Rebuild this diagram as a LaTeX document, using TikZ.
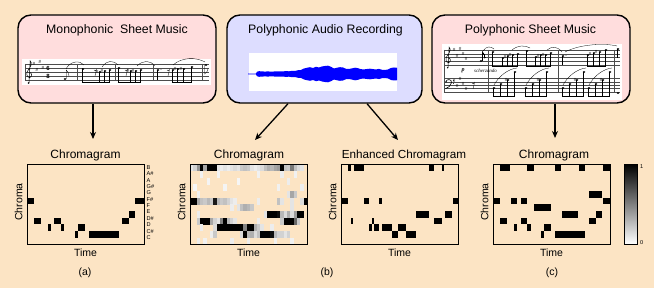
\documentclass[tikz,border=0pt]{standalone}
\usepackage{fontspec}
\setmainfont{Liberation Sans}
\newfontfamily\musicserif{Liberation Serif}
\usetikzlibrary{arrows.meta,calc}
\definecolor{bg}{RGB}{252,228,196}
\definecolor{pinkbox}{RGB}{255,221,221}
\definecolor{lavbox}{RGB}{221,221,255}
\definecolor{wave}{RGB}{0,0,255}
\newcommand\mnote[2]{\fill (#1,#2) ellipse [x radius=1.35, y radius=0.95];}
\begin{document}
\begin{tikzpicture}[x=1pt,y=-1pt,
 bigbox/.style={draw=black, line width=1.4pt, rounded corners=13pt, inner sep=0pt},
 arr/.style={-{Stealth[length=7pt,width=6pt]}, line width=1.3pt},
 title/.style={font=\fontsize{12.3}{14}\selectfont, inner sep=0pt, anchor=base},
 ctitle/.style={font=\fontsize{12}{14}\selectfont, inner sep=0pt, anchor=base},
 lab/.style={font=\fontsize{10.5}{12}\selectfont, inner sep=0pt},
 tinylab/.style={font=\fontsize{5.6}{6}\selectfont, inner sep=0pt, anchor=west},
 chbox/.style={draw=black, line width=0.9pt, minimum width=117pt, minimum height=80pt, inner sep=0pt},
 staff/.style={line width=0.25pt, black!70},
 stem/.style={line width=0.3pt},
 beam/.style={line width=0.8pt},
 slur/.style={line width=0.3pt},
 sh/.style={font=\fontsize{4.5}{4.5}\selectfont, inner sep=0pt},
 ts/.style={font=\bfseries\fontsize{6}{6}\selectfont, inner sep=0pt},
]
\fill[bg] (0,0) rectangle (654,288);
\useasboundingbox (0,0) rectangle (654,288);

% ---------- top boxes ----------
\node[bigbox, fill=pinkbox, minimum width=198pt, minimum height=88pt] (mono) at (117,59) {};
\node[bigbox, fill=lavbox, minimum width=195pt, minimum height=88pt] (audio) at (324.5,59) {};
\node[bigbox, fill=pinkbox, minimum width=198pt, minimum height=88pt] (poly) at (531,59) {};
\node[title] (monot) at (117,33.3) {Monophonic\ \ Sheet Music};
\node[title] (audiot) at (325.5,33.3) {Polyphonic Audio Recording};
\node[title] (polyt) at (530.5,33.3) {Polyphonic Sheet Music};

% ---------- monophonic sheet ----------
\fill[white] (22,59) rectangle (211,85);
\foreach \y in {64,68,72,76,80} \draw[staff] (25,\y) -- (209,\y);
\foreach \x in {25,77,115,153,202} \draw[staff] (\x,64) -- (\x,80);
\begin{scope}[shift={(29,72)}]
 \draw[line width=0.5pt] (0,11) -- (1.2,-11) .. controls (3.5,-9) and (2,-5.5) .. (-0.8,-2) .. controls (-3.5,1) and (-2,6) .. (0.8,5.5) .. controls (3.5,5) and (2.8,0) .. (0.5,0.5);
 \fill (-0.5,11) circle (0.8);
\end{scope}
\foreach \x/\y [count=\i] in {34/64,37/70,40/62,43/68} \node[sh] (msh\i) at (\x,\y) {\#};
\node[ts] (m6) at (48,68) {6};
\node[ts] (m8) at (48,76) {8};
\foreach \x/\y in {65/79, 83/69, 100/72, 105/71, 110/70, 119/68, 131/71, 136/71, 141/70, 158/70, 173/70, 178/69, 184/69, 192/67, 206/65} \mnote{\x}{\y}
\foreach \x/\y in {83/69,100/72,105/71,110/70,119/68,131/71,136/71,141/70,173/70,178/69,184/69,192/67} \draw[stem] (\x-1.2,\y) -- (\x-1.2,83);
\draw[beam] (81.8,82.6) -- (108.8,82.6);
\draw[beam] (117.8,82.6) -- (139.8,82.6);
\draw[beam] (171.8,82.6) -- (190.8,82.6);
\draw[stem] (66.2,79) -- (66.2,70) .. controls (67.5,72) and (69.5,73) .. (69,76);
\draw[stem] (156.8,70) -- (156.8,80);
\fill (161,69.5) circle (0.45);
\draw[stem] (204.8,65) -- (204.8,74) .. controls (206,72) and (208,72) .. (208,69);
\foreach \x in {94,125,167} \draw[stem] (\x,70) .. controls (\x+1,71) and (\x+2,71) .. (\x+2.5,69.5) -- (\x+1,76);
\foreach \x/\y [count=\i] in {97/72,102/71,128/71,133/71,175/69,181/69} \node[sh] (mac\i) at (\x,\y) {\#};
\draw[slur] (66,69) .. controls (70,61) and (80,60) .. (84,65);
\draw[slur] (102,67) .. controls (107,60) and (113,60) .. (118,65);
\draw[slur] (137,66) .. controls (143,60) and (150,60) .. (155,66);
\draw[slur] (173,65) .. controls (182,57) and (196,57) .. (205,62);

% ---------- audio waveform ----------
\fill[white] (249,53) rectangle (397,91);
\fill[wave] plot[smooth, tension=0.5] coordinates {(248,73.5) (256,73.5) (257,71.8) (259,71.2) (262,71.4) (265,71.6) (268,71.4) (271,71.7) (274,71.5) (277,71.3) (280,71.5) (283,71.4) (286,71.1) (289,71.3) (292,70.8) (295,71.0) (298,70.2) (301,70.0) (304,68.5) (307,67.8) (310,67.2) (313,68.0) (316,66.8) (319,67.5) (322,66.5) (325,66.0) (328,65.7) (331,66.8) (334,68.5) (337,67.7) (340,67.2) (343,67.5) (346,68.8) (349,69.0) (352,68.4) (355,67.7) (358,68.2) (361,69.2) (364,69.4) (367,69.0) (370,68.7) (373,69.1) (376,69.5) (379,68.9) (382,69.8) (385,70.0) (388,69.5) (391,68.0) (394,67.5) (397,67.8)}
 -- plot[smooth, tension=0.5] coordinates {(397,80.2) (394,80.5) (391,80.0) (388,78.5) (385,78.0) (382,78.2) (379,79.1) (376,78.5) (373,78.9) (370,79.3) (367,79.0) (364,78.6) (361,78.8) (358,79.8) (355,80.3) (352,79.6) (349,79.0) (346,79.2) (343,80.5) (340,80.8) (337,80.3) (334,79.5) (331,81.2) (328,82.3) (325,82.0) (322,81.5) (319,80.5) (316,81.2) (313,80.0) (310,80.8) (307,80.2) (304,79.5) (301,78.0) (298,77.8) (295,77.0) (292,77.2) (289,76.7) (286,76.9) (283,76.6) (280,76.5) (277,76.7) (274,76.5) (271,76.3) (268,76.6) (265,76.4) (262,76.6) (259,76.8) (257,76.2) (256,74.5) (248,74.5)} -- cycle;

% ---------- polyphonic sheet ----------
\fill[white] (442,44) rectangle (622,100);
\foreach \y in {50,53.75,57.5,61.25,65} \draw[staff] (444,\y) -- (620,\y);
\foreach \y in {78.5,81.8,85.1,88.4,91.7} \draw[staff] (444,\y) -- (620,\y);
\foreach \x in {444,488,558,614} \draw[staff] (\x,50) -- (\x,91.7);
\begin{scope}[shift={(448,57.5)}, scale=0.93]
 \draw[line width=0.5pt] (0,11) -- (1.2,-11) .. controls (3.5,-9) and (2,-5.5) .. (-0.8,-2) .. controls (-3.5,1) and (-2,6) .. (0.8,5.5) .. controls (3.5,5) and (2.8,0) .. (0.5,0.5);
 \fill (-0.5,11) circle (0.8);
\end{scope}
\begin{scope}[shift={(448,81.8)}]
 \draw[line width=0.6pt] (-2,-0.5) .. controls (-1,-3) and (4,-3) .. (3.5,1) .. controls (3,4) and (0,6) .. (-2.5,7);
 \fill (-2,0) circle (0.8);
 \fill (5.5,-1.2) circle (0.4);
 \fill (5.5,1.8) circle (0.4);
\end{scope}
\foreach \x/\y [count=\i] in {454/50,457/56,460/48.5,463/54,466/59} \node[sh] (tsh\i) at (\x,\y) {\#};
\foreach \x/\y [count=\i] in {454/80.5,457/86,460/78.5,463/84,466/89} \node[sh] (bsh\i) at (\x,\y) {\#};
\draw[stem] (472,83) .. controls (473,84) and (474,84) .. (474.5,82.5) -- (473,89);
% treble notes
\foreach \x/\y in {481/61, 493/52, 503/58, 508/56, 513/55, 518/54, 527/51, 536/57, 541/55, 546/55, 551/53, 563/56, 588/55, 594/53, 600/52, 606/50, 618/49} \mnote{\x}{\y}
\draw[stem] (482.2,61) -- (482.2,52) .. controls (483.5,54) and (485.5,55) .. (485,58);
\foreach \x/\y in {493/52, 503/58, 508/56, 513/55, 518/54, 527/51, 536/57, 541/55, 546/55, 551/53, 588/55, 594/53, 600/52, 606/50} \draw[stem] (\x-1.2,\y) -- (\x-1.2,67);
\draw[beam] (491.8,66.6) -- (516.8,66.6);
\draw[beam] (525.8,66.6) -- (549.8,66.6);
\draw[beam] (586.8,66.6) -- (604.8,66.6);
\draw[stem] (561.8,56) -- (561.8,65);
\fill (566,55.5) circle (0.45);
\draw[stem] (616.8,49) -- (616.8,58);
\foreach \x/\y [count=\i] in {505/57,510/55,538/56,543/55,590/54,596/52} \node[sh] (pac\i) at (\x,\y) {\#};
\draw[slur] (483,51) .. controls (486,46) and (491,46) .. (494,49);
\draw[slur] (512,50) .. controls (518,45) and (525,45) .. (530,48);
\draw[slur] (547,50) .. controls (552,46) and (557,46) .. (562,52);
\draw[slur] (565,52) .. controls (580,44) and (605,43) .. (617,46);
\node[font=\musicserif\itshape\bfseries\fontsize{6}{6}\selectfont, inner sep=0pt] (pdyn) at (463,71) {p};
\node[font=\musicserif\itshape\fontsize{5}{5}\selectfont, inner sep=0pt, anchor=west] (scherz) at (474,71) {scherzando};
% bass notes
\foreach \gx in {494,526,563,589} {
 \foreach \dx/\y in {0/88, 7/84, 14/80, 21/72} \mnote{\gx+\dx}{\y}
 \foreach \dx/\y in {0/88, 7/84, 14/80, 21/72} \draw[stem] (\gx+\dx-1.2,\y) -- (\gx+\dx-1.2,97);
 \draw[beam] (\gx-1.2,96.6) -- (\gx+19.8,96.6);
 \draw[slur] (\gx,85) .. controls (\gx+5,76) and (\gx+14,69) .. (\gx+23,68);
 \node[sh] (bac\gx) at (\gx+12,80) {\#};
}
\mnote{618}{93}

% ---------- arrows ----------
\coordinate (e1) at (93,139);
\coordinate (e2) at (255,140);
\coordinate (e3) at (398,140);
\coordinate (e4) at (555,138);
\draw[arr] (mono.south -| e1) -- (e1);
\draw[arr] ($(audio.south)+(-36.5,0)$) -- (e2);
\draw[arr] ($(audio.south)+(42.5,0)$) -- (e3);
\draw[arr] (poly.south -| e4) -- (e4);

% ---------- chromagram (a) ----------
\foreach \xa/\xb/\r in {27/34/5, 135/144/5, 34/41/8, 48/51/9, 54/61/8, 61/64/9, 75/78/10, 78/85/9, 89/119/10, 122/129/8, 129/135/7}
 \fill (\xa,{164.5+\r*6.6667}) rectangle (\xb,{164.5+(\r+1)*6.6667});
\node[chbox] (ca) at (85.5,204.5) {};
\foreach \n [count=\i from 0] in {B,A\#,A,G\#,G,F\#,F,E,D\#,D,C\#,C}
 \node[tinylab] (nl\i) at (146.5,{167.5+\i*6.36}) {\n};

% ---------- chromagram (b) ----------
\foreach \c/\r/\p [evaluate=\p as \q using {(\p>85)*\p+(\p<=85)*\p*0.7}] in {0/0/15, 1/0/25, 2/0/60, 3/0/100, 4/0/50, 5/0/100, 6/0/100, 7/0/100, 8/0/15, 9/0/10, 10/0/15, 11/0/10, 12/0/15, 13/0/20, 14/0/15, 15/0/30, 16/0/35, 17/0/30, 18/0/15, 19/0/10, 20/0/15, 21/0/20, 22/0/35, 23/0/45, 24/0/40, 25/0/50, 26/0/55, 27/0/100, 28/0/35, 29/0/30, 30/0/75, 31/0/35, 32/0/20, 33/0/15,
 3/1/8, 8/1/6, 20/1/8, 27/1/10, 31/1/8, 5/2/6, 14/2/5, 29/2/10, 1/3/5, 10/3/6, 26/3/8, 33/3/10,
 30/4/50, 31/4/30, 29/4/15, 2/4/8,
 0/5/100, 1/5/100, 2/5/50, 3/5/35, 4/5/30, 5/5/40, 6/5/30, 7/5/90, 8/5/40, 9/5/30, 10/5/35, 11/5/25, 12/5/15, 13/5/10, 20/5/10, 26/5/35, 27/5/15, 30/5/15, 33/5/20, 34/5/100,
 12/6/10, 14/6/15, 15/6/35, 16/6/45, 17/6/40, 18/6/30, 30/6/15,
 2/7/10, 22/7/15, 23/7/100, 24/7/100, 25/7/100, 26/7/95, 27/7/40, 28/7/20, 29/7/45, 30/7/20, 31/7/55, 32/7/100, 33/7/100,
 2/8/30, 3/8/100, 4/8/100, 5/8/100, 6/8/50, 7/8/25, 8/8/15, 9/8/70, 10/8/100, 11/8/40, 12/8/25, 13/8/15, 20/8/10, 27/8/30, 28/8/100, 29/8/100, 30/8/100, 31/8/85, 32/8/30,
 3/9/10, 7/9/20, 8/9/100, 9/9/100, 10/9/100, 11/9/100, 12/9/100, 13/9/100, 14/9/100, 15/9/100, 16/9/70, 17/9/100, 18/9/100, 19/9/45, 20/9/30, 21/9/15, 24/9/10,
 6/10/10, 7/10/30, 15/10/20, 16/10/100, 17/10/40, 18/10/45, 19/10/20, 20/10/35, 21/10/100, 22/10/100, 23/10/100, 24/10/95, 25/10/40, 26/10/25, 27/10/25, 28/10/15, 29/10/25,
 2/11/10, 4/11/8, 12/11/10, 17/11/10, 25/11/8, 30/11/8}
 \fill[black!\q] ({190+\c*3.3429},{164.5+\r*6.6667}) rectangle ({190.05+(\c+1)*3.3429},{164.55+(\r+1)*6.6667});
\node[chbox] (cb) at (248.5,204.5) {};

% ---------- enhanced chromagram ----------
\foreach \xa/\xb/\r in {348.3/351/0, 354/364/0, 429.3/434.3/0, 441.7/444.3/0, 341/348.3/5, 364.3/369/5, 379.3/382.3/5, 452.7/458/5, 416/429.3/7, 445/452.3/7, 351/353.3/8, 372.3/374.3/8, 434.3/442.3/8, 369.3/371.7/9, 374.3/379.3/9, 382.3/392.3/9, 398.3/405.7/9, 392.3/398.3/10, 405.7/416/10}
 \fill (\xa,{164.5+\r*6.6667}) rectangle (\xb,{164.5+(\r+1)*6.6667});
\node[chbox] (cc) at (399.5,204.5) {};

% ---------- chromagram (c) ----------
\foreach \xa/\xb/\r in {500/510/0, 527.3/534/0, 555/561/0, 579.3/585/0, 603.3/610/0, 589.3/602.3/4, 493/500/5, 510.7/517.3/5, 520.7/527.3/5, 603.3/610/5, 534.3/551/6, 561.7/578.3/7, 596/602.3/7, 500/506.7/8, 520.7/527.3/8, 589.3/596/8, 514/517.3/9, 527.3/530.7/9, 544.3/551/9, 541/544.3/10, 555/585/10}
 \fill (\xa,{164.5+\r*6.6667}) rectangle (\xb,{164.5+(\r+1)*6.6667});
\node[chbox] (cd) at (551.5,204.5) {};

% colour bar
\foreach \i [evaluate=\i as \p using 100-\i*1.25] in {0,...,79}
 \fill[black!\p] (624,164.5+\i) rectangle (637,165.6+\i);
\node[draw=black, line width=0.8pt, minimum width=13pt, minimum height=80pt, inner sep=0pt] (cbar) at (630.5,204.5) {};
\node[tinylab] (cb1) at (640,166.5) {1};
\node[tinylab] (cb0) at (640,243) {0};

% ---------- labels ----------
\node[ctitle] (ta) at (85.5,159) {Chromagram};
\node[ctitle] (tb) at (249,159) {Chromagram};
\node[ctitle, font=\fontsize{11.7}{14}\selectfont] (tc) at (404,159) {Enhanced Chromagram};
\node[ctitle] (td) at (554,159) {Chromagram};
\foreach \x/\nm in {85.5/a,248.5/b,399.5/c,551.5/d} {
 \node[lab, anchor=base] (time\nm) at (\x,256.5) {Time};
 \node[lab, rotate=90] (chroma\nm) at (\x-67,202) {Chroma};
}
\node[lab, anchor=base] (la) at (85,276) {(a)};
\node[lab, anchor=base] (lb) at (327,276) {(b)};
\node[lab, anchor=base] (lc) at (552,276) {(c)};
\end{tikzpicture}
\end{document}
